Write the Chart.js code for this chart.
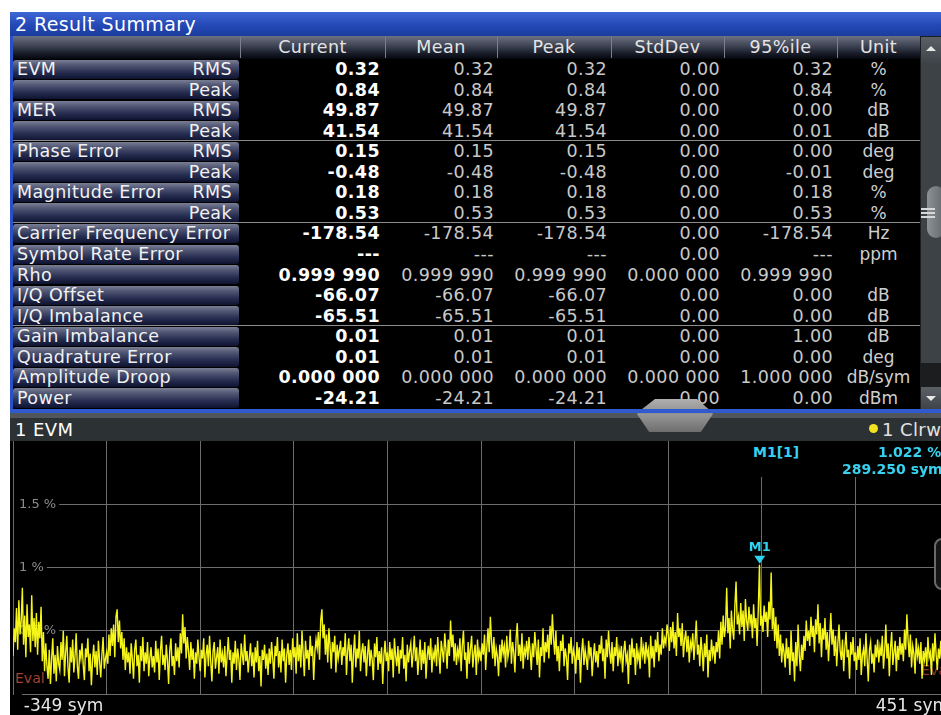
<!DOCTYPE html>
<html><head><meta charset="utf-8">
<script src="https://cdn.jsdelivr.net/npm/chart.js@4.4.1/dist/chart.umd.min.js"></script>
<style>
html,body{margin:0;padding:0;width:941px;height:715px;overflow:hidden;background:#fff;font-family:"DejaVu Sans",Verdana,sans-serif;}
.a{position:absolute;white-space:nowrap;}
.lab{background:linear-gradient(to bottom,#7a7f95 0%,#4f5572 28%,#272d50 65%,#0e1330 100%);border-radius:3px;}
.t{font-size:17.5px;letter-spacing:0.4px;color:#f2f2f2;}
.v{font-size:17.5px;letter-spacing:0.4px;color:#c9c9c9;text-align:right;}
.vb{font-size:17.5px;letter-spacing:0.4px;color:#ffffff;font-weight:bold;text-align:right;}
.h{font-size:17.5px;letter-spacing:0.4px;color:#e4e4e4;text-align:center;}
.mk{font-weight:bold;font-size:14px;color:#38d2f0;}
</style></head><body>
<div id="root"></div>
<script>
// ---------- table data ----------
const rowNames = ['EVM','','MER','','Phase Error','','Magnitude Error','','Carrier Frequency Error','Symbol Rate Error','Rho','I/Q Offset','I/Q Imbalance','Gain Imbalance','Quadrature Error','Amplitude Droop','Power'];
const rowSub = ['RMS','Peak','RMS','Peak','RMS','Peak','RMS','Peak','','','','','','','','',''];
const headers = ['Current','Mean','Peak','StdDev','95%ile','Unit'];
const colCurrent = ['0.32','0.84','49.87','41.54','0.15','-0.48','0.18','0.53','-178.54','---','0.999 990','-66.07','-65.51','0.01','0.01','0.000 000','-24.21'];
const colMean = ['0.32','0.84','49.87','41.54','0.15','-0.48','0.18','0.53','-178.54','---','0.999 990','-66.07','-65.51','0.01','0.01','0.000 000','-24.21'];
const colPeak = ['0.32','0.84','49.87','41.54','0.15','-0.48','0.18','0.53','-178.54','---','0.999 990','-66.07','-65.51','0.01','0.01','0.000 000','-24.21'];
const colStdDev = ['0.00','0.00','0.00','0.00','0.00','0.00','0.00','0.00','0.00','0.00','0.000 000','0.00','0.00','0.00','0.00','0.000 000','0.00'];
const col95 = ['0.32','0.84','0.00','0.01','0.00','-0.01','0.18','0.53','-178.54','---','0.999 990','0.00','0.00','1.00','0.00','1.000 000','0.00'];
const colUnit = ['%','%','dB','dB','deg','deg','%','%','Hz','ppm','','dB','dB','dB','deg','dB/sym','dBm'];

// ---------- trace data ----------
const symStart = -349;
const evmValues = [
0.30,0.52,0.41,0.68,0.35,0.74,0.47,0.58,0.84,0.39,0.62,0.29,0.71,0.45,0.55,0.33,0.78,0.42,0.60,0.37,
0.64,0.31,0.57,0.44,0.69,0.26,0.49,0.18,0.40,0.22,0.12,0.35,0.08,0.28,0.44,0.16,0.31,0.10,0.38,0.24,
0.19,0.41,0.27,0.50,0.14,0.33,0.46,0.21,0.09,0.37,0.25,0.43,0.17,0.30,0.48,0.22,0.12,0.35,0.28,0.40,
0.23,0.11,0.36,0.29,0.44,0.18,0.32,0.07,0.27,0.39,0.21,0.34,0.15,0.42,0.26,0.13,0.31,0.45,0.20,0.28,
0.33,0.24,0.47,0.30,0.52,0.38,0.55,0.29,0.61,0.67,0.41,0.58,0.36,0.49,0.27,0.44,0.19,0.37,0.25,0.33,
0.16,0.40,0.28,0.12,0.35,0.43,0.22,0.31,0.09,0.38,0.26,0.45,0.18,0.33,0.24,0.41,0.14,0.29,0.37,0.21,
0.30,0.17,0.42,0.25,0.36,0.11,0.34,0.46,0.23,0.31,0.19,0.39,0.27,0.08,0.35,0.44,0.22,0.30,0.15,0.40,
0.26,0.37,0.21,0.48,0.32,0.63,0.40,0.53,0.28,0.45,0.34,0.19,0.41,0.27,0.36,0.12,0.33,0.24,0.43,0.29,
0.18,0.35,0.28,0.44,0.13,0.31,0.39,0.22,0.46,0.26,0.10,0.34,0.41,0.20,0.29,0.37,0.16,0.43,0.25,0.32,
0.21,0.38,0.14,0.30,0.45,0.27,0.35,0.09,0.33,0.24,0.42,0.19,0.36,0.28,0.11,0.40,0.31,0.23,0.47,0.26,
0.34,0.17,0.29,0.40,0.22,0.33,0.13,0.37,0.25,0.42,0.18,0.30,0.06,0.35,0.27,0.39,0.20,0.32,0.15,0.36,
0.24,0.41,0.28,0.12,0.38,0.30,0.45,0.21,0.34,0.17,0.43,0.26,0.36,0.09,0.31,0.40,0.23,0.35,0.19,0.44,
0.29,0.37,0.16,0.48,0.26,0.39,0.21,0.50,0.32,0.14,0.42,0.28,0.35,0.19,0.46,0.30,0.38,0.11,0.33,0.43,
0.36,0.49,0.27,0.58,0.67,0.44,0.55,0.31,0.47,0.25,0.52,0.38,0.20,0.41,0.33,0.46,0.17,0.39,0.28,0.35,
0.42,0.23,0.37,0.30,0.48,0.15,0.34,0.44,0.26,0.39,0.09,0.32,0.47,0.21,0.36,0.28,0.50,0.18,0.33,0.40,
0.25,0.38,0.14,0.31,0.43,0.22,0.35,0.27,0.11,0.40,0.29,0.45,0.19,0.34,0.24,0.37,0.08,0.30,0.42,0.26,
0.33,0.18,0.41,0.27,0.36,0.13,0.44,0.30,0.22,0.38,0.16,0.35,0.28,0.45,0.20,0.31,0.10,0.39,0.25,0.34,
0.40,0.21,0.32,0.46,0.26,0.37,0.15,0.29,0.43,0.19,0.35,0.24,0.41,0.12,0.30,0.38,0.27,0.44,0.17,0.33,
0.28,0.39,0.22,0.45,0.31,0.16,0.42,0.34,0.25,0.48,0.36,0.20,0.43,0.30,0.58,0.37,0.47,0.26,0.40,0.23,
0.35,0.29,0.44,0.18,0.38,0.50,0.27,0.33,0.12,0.41,0.24,0.36,0.46,0.21,0.32,0.39,0.15,0.43,0.28,0.34,
0.26,0.40,0.31,0.47,0.19,0.37,0.52,0.33,0.61,0.42,0.28,0.45,0.22,0.36,0.30,0.14,0.39,0.25,0.43,0.32,
0.38,0.21,0.46,0.29,0.35,0.51,0.24,0.41,0.33,0.17,0.44,0.56,0.30,0.39,0.26,0.48,0.20,0.36,0.31,0.42,
0.27,0.45,0.34,0.19,0.40,0.29,0.49,0.36,0.23,0.43,0.13,0.37,0.30,0.52,0.25,0.41,0.33,0.47,0.28,0.54,
0.39,0.63,0.44,0.31,0.50,0.26,0.38,0.18,0.42,0.34,0.47,0.22,0.36,0.29,0.11,0.40,0.32,0.45,0.24,0.35,
0.30,0.16,0.41,0.27,0.37,0.09,0.33,0.44,0.23,0.35,0.28,0.19,0.42,0.31,0.37,0.14,0.29,0.40,0.25,0.34,
0.21,0.39,0.32,0.46,0.26,0.36,0.12,0.43,0.29,0.50,0.33,0.24,0.41,0.18,0.37,0.30,0.45,0.22,0.35,0.28,
0.38,0.17,0.34,0.42,0.26,0.31,0.08,0.39,0.23,0.44,0.29,0.36,0.15,0.40,0.27,0.33,0.20,0.45,0.31,0.37,
0.24,0.41,0.30,0.35,0.13,0.46,0.28,0.38,0.21,0.43,0.33,0.49,0.26,0.39,0.31,0.52,0.36,0.44,0.40,0.55,
0.47,0.34,0.53,0.41,0.57,0.36,0.49,0.30,0.64,0.45,0.52,0.38,0.56,0.29,0.43,0.50,0.33,0.46,0.25,0.41,
0.36,0.48,0.27,0.42,0.58,0.31,0.39,0.22,0.45,0.34,0.18,0.40,0.29,0.47,0.13,0.35,0.26,0.43,0.31,0.38,
0.24,0.41,0.33,0.50,0.28,0.57,0.39,0.62,0.45,0.53,0.84,0.48,0.60,0.36,0.66,0.51,0.43,0.70,0.89,0.55,
0.61,0.47,0.72,0.53,0.66,0.42,0.75,0.58,0.50,0.69,0.56,0.63,0.44,0.71,0.52,0.60,0.38,0.67,1.022,0.54,
0.62,0.49,0.70,0.57,0.65,0.45,0.73,0.59,0.96,0.51,0.68,0.42,0.61,0.36,0.55,0.30,0.47,0.25,0.40,0.33,
0.21,0.44,0.28,0.37,0.15,0.50,0.26,0.33,0.10,0.41,0.22,0.55,0.31,0.18,0.39,0.27,0.46,0.34,0.58,0.42,
0.50,0.38,0.61,0.45,0.54,0.33,0.59,0.47,0.71,0.40,0.56,0.29,0.52,0.43,0.60,0.35,0.49,0.26,0.44,0.64,
0.39,0.51,0.30,0.46,0.22,0.40,0.55,0.34,0.27,0.43,0.18,0.37,0.49,0.29,0.35,0.12,0.41,0.31,0.45,0.26,
0.33,0.19,0.38,0.27,0.44,0.15,0.31,0.36,0.22,0.48,0.28,0.10,0.35,0.41,0.24,0.32,0.17,0.39,0.29,0.43,
0.25,0.37,0.30,0.46,0.20,0.34,0.55,0.28,0.40,0.14,0.36,0.49,0.23,0.33,0.42,0.18,0.38,0.27,0.45,0.31,
0.40,0.26,0.51,0.35,0.63,0.43,0.29,0.47,0.21,0.38,0.32,0.16,0.44,0.30,0.36,0.24,0.41,0.12,0.34,0.27,
0.37,0.22,0.45,0.29,0.33,0.15,0.40,0.26,0.48,0.31,0.19,0.36,0.28,0.42,0.23,0.35,0.11,0.30,0.39,0.25
];
const xTicks = [-349,-269,-189,-109,-29,51,131,211,291,371,451];
const xTickLabels = ['  -349 sym','451 sym'];
const yTicks = [0,0.5,1,1.5,2];
const yUnit = ' %';
const markerPos = {x:289.25, y:1.022};
const markerName = 'M1';
const markerInfo = ['M1[1]','1.022 %','289.250 sym'];

// ---------- layout helpers ----------
const root = document.getElementById('root');
function box(l,t,w,h,css,txt,cls){
  const d=document.createElement('div'); d.className='a'+(cls?' '+cls:'');
  d.style.left=l+'px'; d.style.top=t+'px';
  if(w!=null) d.style.width=w+'px'; if(h!=null) d.style.height=h+'px';
  if(css) d.style.cssText+=css; if(txt!=null) d.textContent=txt;
  root.appendChild(d); return d;
}
// top pane
box(10,12,931,24,'background:linear-gradient(to bottom,#3f67d6 0%,#2449b6 55%,#1a3c9e 100%);');
box(15,12,300,24,'color:#fff;font-size:19px;letter-spacing:0.4px;line-height:24px;','2 Result Summary');
box(10,36,3,377,'background:#2a50c8;');
box(13,36,907,373,'background:#000;');
// header row
box(13,36,907,23,'background:linear-gradient(to bottom,#6d7282 0%,#424757 40%,#161a26 78%,#05070d 100%);');
[240,385,497,611,724,837].forEach(x=>box(x,37,1,21,'background:#7a8090;'));
const colEdges=[240,385,497,611,724,837,920];
headers.forEach((h,i)=>box(colEdges[i],36,colEdges[i+1]-colEdges[i],23,'line-height:23px;',h,'h'));
// rows
const R0=59, RH=20.55;
const rights=[380,494,607,720,833];
const cols=[colCurrent,colMean,colPeak,colStdDev,col95];
for(let i=0;i<rowNames.length;i++){
  const top=R0+i*RH;
  box(13,top+0.6,226,RH-1.3,'','', 'lab');
  if(rowNames[i]) box(17,top,220,RH,'line-height:'+RH+'px;',rowNames[i],'t');
  if(rowSub[i]) box(130,top,102,RH,'line-height:'+RH+'px;text-align:right;',rowSub[i],'t');
  cols.forEach((c,j)=>box(rights[j]-160,top,160,RH,'line-height:'+RH+'px;',c[i],j===0?'vb':'v'));
  box(837,top,83,RH,'line-height:'+RH+'px;text-align:center;color:#cfcfcf;font-size:17px;',colUnit[i]);
}
[4,8,13].forEach(k=>box(13,Math.round(R0+k*RH)-1,907,1,'background:#8c8c8c;'));
// scrollbar
box(920,36,21,373,'background:#1b1d1f;');
box(921,37,20,26,'background:linear-gradient(#5a6066,#3e4448);');
box(926,46,0,0,'border-left:5px solid transparent;border-right:5px solid transparent;border-bottom:5px solid #e8e8e8;');
box(921,63,20,300,'background:#3d4246;');
box(927,186,18,52,'background:linear-gradient(to right,#8c9196,#62676b);border-radius:9px;');
[208,212,216].forEach(y=>box(921,y,14,1.5,'background:#d8d8d8;'));
box(921,387,20,22,'background:linear-gradient(#5a6066,#3e4448);');
box(926,396,0,0,'border-left:5px solid transparent;border-right:5px solid transparent;border-top:5px solid #e8e8e8;');
// divider + lower header
box(637,399,76,33,'clip-path:polygon(18px 0,60px 0,76px 14px,60px 33px,18px 33px,0 14px);background:linear-gradient(to bottom,#b0b0b0 0%,#8a8a8a 50%,#666 100%);z-index:2;');
box(10,409,931,4,'background:#2f5ad0;z-index:3;');
box(10,413,931,5,'background:#50565b;');
box(10,418,931,23,'background:#2c3134;');
box(637,413,76,19,'clip-path:polygon(0 1px,100% 1px,84% 19px,16% 19px);background:linear-gradient(to bottom,#9a9a9a,#6e6e6e);z-index:2;');
box(15,418,200,23,'color:#fff;font-size:18px;letter-spacing:0.4px;line-height:23px;','1 EVM');
box(869,424,9,9,'background:#f2e31e;border-radius:50%;');
box(882,418,80,23,'color:#e2e2e2;font-size:18px;letter-spacing:0.4px;line-height:23px;','1 Clrw');
// plot pane
box(10,441,931,274,'background:#000;');
box(15,670,40,16,'color:#a3402e;font-size:14px;line-height:16px;z-index:1;','Eval');
box(921,662,40,16,'color:#8a3528;font-size:14px;line-height:16px;z-index:1;','Eval');
box(934,538,14,48,'border:2px solid #6a6a6a;border-radius:8px;background:#151515;z-index:4;');
const holder = box(13,441,936,274,'z-index:2;');
const cv=document.createElement('canvas'); holder.appendChild(cv);
// marker info
box(745,441,196,36,'background:#000;z-index:3;');
box(753,443,60,18,'line-height:18px;z-index:4;',markerInfo[0],'mk');
box(878,443,80,18,'line-height:18px;z-index:4;',markerInfo[1],'mk');
box(842,460,120,18,'line-height:18px;z-index:4;',markerInfo[2],'mk');

// ---------- chart ----------
const points = evmValues.map((v,i)=>({x:symStart+i,y:v}));
const markerPlugin={
  id:'marker',
  afterDatasetsDraw(chart){
    const {ctx,scales:{x,y}}=chart;
    const px=x.getPixelForValue(markerPos.x), py=y.getPixelForValue(markerPos.y);
    ctx.save();
    ctx.fillStyle='#2fd2f0';
    ctx.beginPath(); ctx.moveTo(px-5.5,py-9); ctx.lineTo(px+5.5,py-9); ctx.lineTo(px,py-1); ctx.closePath(); ctx.fill();
    ctx.font='bold 13px "DejaVu Sans"'; ctx.textAlign='center'; ctx.textBaseline='middle';
    ctx.fillText(markerName,px,py-17);
    ctx.restore();
  }
};
new Chart(cv,{
  type:'line',
  data:{datasets:[{data:points,borderColor:'#f5f51a',borderWidth:1.4,pointRadius:0,tension:0,fill:false}]},
  options:{
    animation:false,responsive:true,maintainAspectRatio:false,events:[],
    layout:{padding:0},
    plugins:{legend:{display:false},tooltip:{enabled:false}},
    scales:{
      x:{type:'linear',min:xTicks[0],max:xTicks[xTicks.length-1],
        afterBuildTicks(s){s.ticks=xTicks.map(v=>({value:v}));},
        afterFit(s){s.height=21;s.paddingLeft=0;s.paddingRight=0;},
        grid:{color:(c)=>c.index===0?'#b4502d':'#6c6c6c',drawTicks:false,lineWidth:1},
        border:{display:true,color:'#6c6c6c'},
        ticks:{autoSkip:false,maxRotation:0,minRotation:0,align:'inner',padding:2,color:'#e6e6e6',
          font:{family:'DejaVu Sans',size:17},
          callback:(v,i,arr)=>i===0?xTickLabels[0]:(i===arr.length-1?xTickLabels[1]:'')}
      },
      y:{min:yTicks[0],max:yTicks[yTicks.length-1],
        afterBuildTicks(s){s.ticks=yTicks.map(v=>({value:v}));},
        afterFit(s){s.width=0;s.paddingTop=0;s.paddingBottom=0;},
        grid:{color:(c)=>(c.tick&&c.tick.value===yTicks[yTicks.length-1])?'rgba(0,0,0,0)':'#6c6c6c',drawTicks:false},
        border:{display:true,color:'#b4502d'},
        ticks:{mirror:true,padding:6,color:'#8c8c8c',font:{family:'DejaVu Sans',size:13},
          showLabelBackdrop:true,backdropColor:'#000',backdropPadding:{left:5,right:3,top:0,bottom:0},
          callback:(v)=>(v===yTicks[0]||v===yTicks[yTicks.length-1])?'':v+yUnit}
      }
    }
  },
  plugins:[markerPlugin]
});
</script>
</body></html>
